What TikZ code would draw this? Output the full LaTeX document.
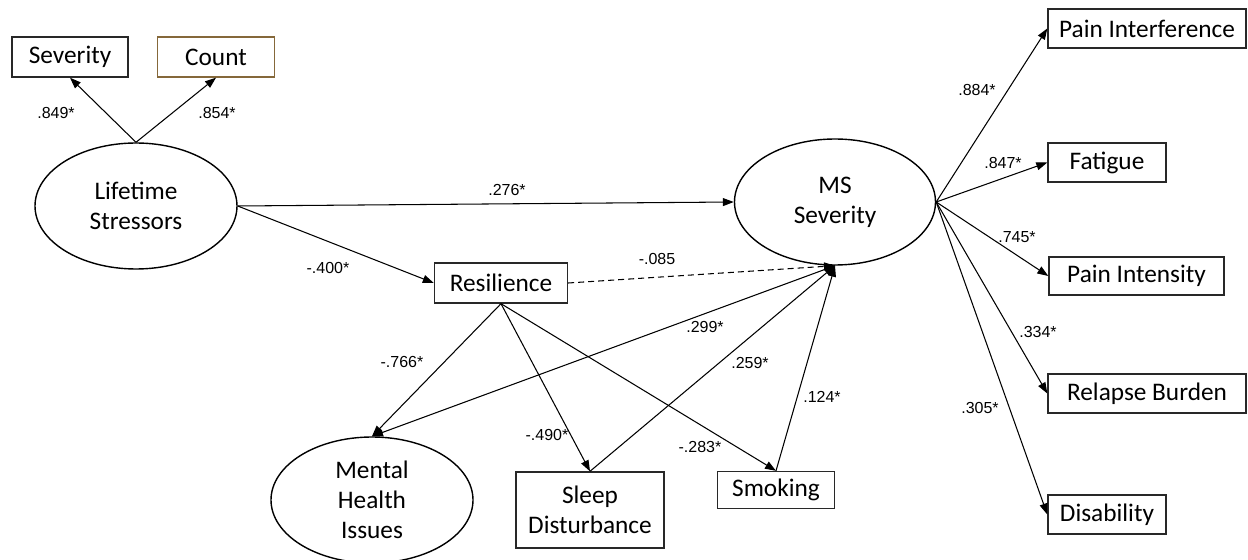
\documentclass[tikz,border=0pt]{standalone}
\usepackage{fontspec}
\setmainfont{Carlito}
\newfontfamily\arialf{Liberation Sans}
\usetikzlibrary{shapes.geometric,arrows.meta}
\definecolor{countbrown}{RGB}{133,104,58}
\definecolor{boxgray}{RGB}{40,40,40}
\tikzset{
  box/.style={draw=boxgray,line width=0.8pt,inner sep=0pt,align=center,font=\fontsize{14.4}{17}\selectfont},
  latent/.style={draw=black,ellipse,line width=0.8pt,inner sep=0pt,align=center,font=\fontsize{14.4}{17}\selectfont},
  coef/.style={inner sep=0pt,font=\arialf\fontsize{9.1}{11}\selectfont},
  path/.style={line width=0.6pt,-{Triangle[length=2.2mm,width=1.6mm]}},
  dpath/.style={path,dash pattern=on 1.2mm off 0.8mm}
}
\begin{document}
\begin{tikzpicture}[x=0.02cm,y=-0.02cm]
\useasboundingbox (0,0) rectangle (1248,560);
% nodes
\node[box,minimum width=116*0.02cm,minimum height=40*0.02cm] (sev) at (70,57) {Severity};
\node[box,draw=countbrown,minimum width=117*0.02cm,minimum height=40*0.02cm] (cnt) at (216,57) {Count};
\node[latent,minimum width=202*0.02cm,minimum height=126*0.02cm] (lt) at (136,206) {Lifetime\\Stressors};
\node[latent,minimum width=201*0.02cm,minimum height=126*0.02cm] (ms) at (835,202) {MS\\Severity};
\node[box,minimum width=133*0.02cm,minimum height=40*0.02cm] (res) at (501,283) {Resilience};
\node[latent,minimum width=202*0.02cm,minimum height=126*0.02cm] (mh) at (372,500) {Mental\\Health\\Issues};
\node[box,minimum width=148*0.02cm,minimum height=76*0.02cm] (sl) at (590,510) {Sleep\\Disturbance};
\node[box,minimum width=117*0.02cm,minimum height=37*0.02cm] (sm) at (776,490) {Smoking};
\node[box,minimum width=198*0.02cm,minimum height=39*0.02cm] (pi) at (1147,28.5) {Pain Interference};
\node[box,minimum width=118*0.02cm,minimum height=39*0.02cm] (fa) at (1107,162.5) {Fatigue};
\node[box,minimum width=175*0.02cm,minimum height=38*0.02cm] (pn) at (1136.5,276) {Pain Intensity};
\node[box,minimum width=198*0.02cm,minimum height=39*0.02cm] (rb) at (1147,393.5) {Relapse Burden};
\node[box,minimum width=118*0.02cm,minimum height=39*0.02cm] (di) at (1107,514.5) {Disability};
% connectors
\draw[path] (lt.north) -- (sev.south);
\draw[path] (lt.north) -- (cnt.south);
\draw[path] (lt.east) -- (ms.west);
\draw[path] (lt.east) -- (res.west);
\draw[dpath] (res.east) -- (ms.south);
\draw[path] (res.south) -- (mh.north);
\draw[path] (res.south) -- (sl.north);
\draw[path] (res.south) -- (sm.north);
\draw[path] (ms.south) -- (mh.north);
\draw[path] (sl.north) -- (ms.south);
\draw[path] (sm.north) -- (ms.south);
\draw[path] (ms.east) -- (pi.west);
\draw[path] (ms.east) -- (fa.west);
\draw[path] (ms.east) -- (pn.west);
\draw[path] (ms.east) -- (rb.west);
\draw[path] (ms.east) -- (di.west);
% coefficients
\node[coef] (c1) at (56,113) {.849*};
\node[coef] (c2) at (217,113) {.854*};
\node[coef] (c3) at (507,190) {.276*};
\node[coef] (c4) at (328,268) {-.400*};
\node[coef] (c5) at (657,259) {-.085};
\node[coef] (c6) at (705,327) {.299*};
\node[coef] (c7) at (402,362) {-.766*};
\node[coef] (c8) at (750,363) {.259*};
\node[coef] (c9) at (822,397) {.124*};
\node[coef] (c10) at (547,435) {-.490*};
\node[coef] (c11) at (700,447) {-.283*};
\node[coef] (c12) at (977,90) {.884*};
\node[coef] (c13) at (1003,163) {.847*};
\node[coef] (c14) at (1017,237) {.745*};
\node[coef] (c15) at (1038,332) {.334*};
\node[coef] (c16) at (980,408) {.305*};
\end{tikzpicture}
\end{document}
